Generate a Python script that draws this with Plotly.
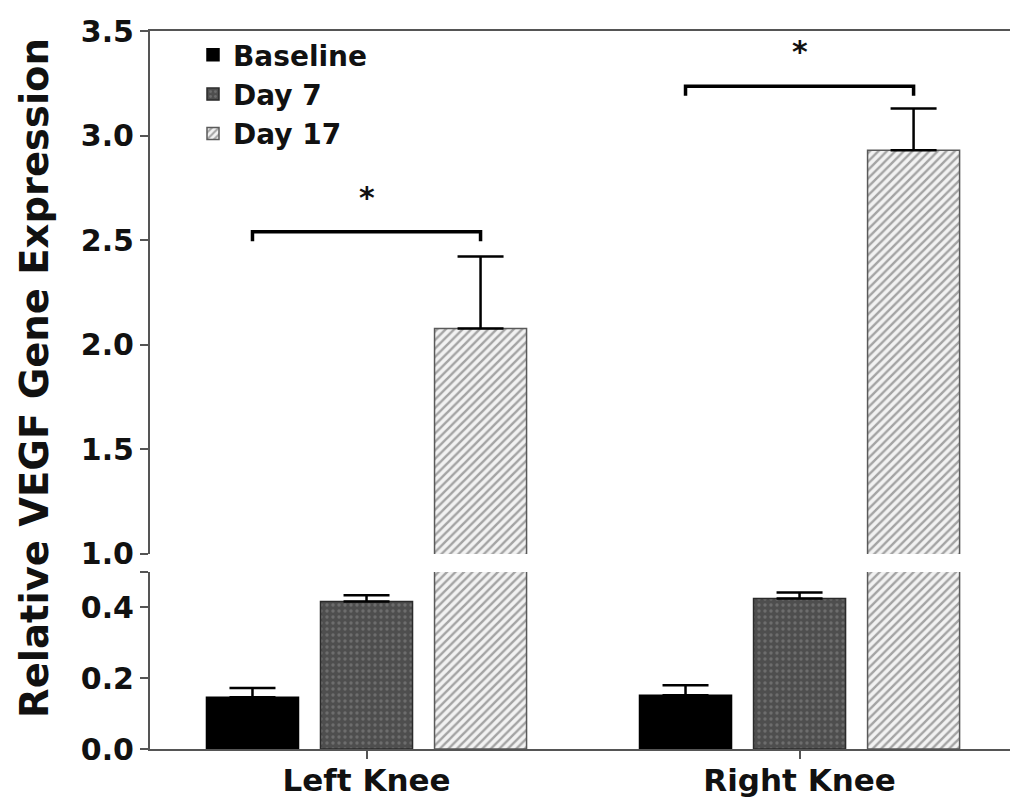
import plotly.graph_objects as go

# ---- data ----
categories = ["Left Knee", "Right Knee"]
series_names = ["Baseline", "Day 7", "Day 17"]
baseline = [0.146, 0.152]
baseline_err = [0.026, 0.028]
day7 = [0.417, 0.425]
day7_err = [0.017, 0.017]
day17 = [2.078, 2.93]
day17_err = [0.344, 0.20]
lower_ticks = [0.0, 0.2, 0.4]
upper_ticks = [1.0, 1.5, 2.0, 2.5, 3.0, 3.5]
sig_level = [2.54, 3.236]      # bracket heights (Baseline vs Day 17)
star_level = [2.705, 3.40]

values = [baseline, day7, day17]
errors = [baseline_err, day7_err, day17_err]

styles = [
    dict(color="#000000", line=dict(color="#000000", width=1.5)),
    dict(color="#4e4e4e", line=dict(color="#2a2a2a", width=1.5),
         pattern=dict(shape=".", fgcolor="#8c8c8c", bgcolor="#4e4e4e", size=6, solidity=0.25)),
    dict(color="#f2f2f2", line=dict(color="#5a5a5a", width=1.5),
         pattern=dict(shape="/", fgcolor="#555555", bgcolor="#f2f2f2", size=6, solidity=0.4)),
]

BOLD = dict(family="DejaVu Sans", weight="bold", color="#111111")
BARGAP = 0.21
BARGROUPGAP = 0.193

fig = go.Figure()
for panel, (xa, ya) in enumerate([("x", "y"), ("x2", "y2")]):
    for i, name in enumerate(series_names):
        fig.add_trace(go.Bar(
            x=categories, y=values[i], name=name,
            xaxis=xa, yaxis=ya,
            marker=styles[i],
            showlegend=(panel == 0),
            error_y=dict(type="data", array=errors[i], arrayminus=[0] * len(categories),
                         symmetric=False, color="#000000", thickness=2.5, width=23),
        ))

# significance brackets between Baseline and Day 17 bars
slot = (1 - BARGAP) / len(series_names)
for ci in range(len(categories)):
    x0, x1 = ci - slot, ci + slot
    yl = sig_level[ci]
    drop = 0.045
    fig.add_shape(type="path",
                  path=f"M {x0} {yl - drop} L {x0} {yl} L {x1} {yl} L {x1} {yl - drop}",
                  xref="x2", yref="y2", line=dict(color="#000000", width=3.5))
    fig.add_annotation(x=ci, y=star_level[ci], xref="x2", yref="y2", text="*",
                       showarrow=False, font=dict(size=30, **BOLD))

axis_common = dict(showline=True, linecolor="#555555", linewidth=2, showgrid=False,
                   zeroline=False, ticks="outside", ticklen=8, tickwidth=2, tickcolor="#555555",
                   automargin=False)

fig.update_layout(
    width=1010, height=801,
    margin=dict(l=150, r=0, t=31, b=52, autoexpand=False),
    paper_bgcolor="white", plot_bgcolor="white",
    barmode="group", bargap=BARGAP, bargroupgap=BARGROUPGAP,
    xaxis=dict(domain=[0, 1], range=[-0.5, 1.486], anchor="y",
               tickfont=dict(size=31, **BOLD), ticklabelstandoff=-5, **axis_common),
    xaxis2=dict(domain=[0, 1], matches="x", anchor="y2", side="top", showline=True,
                linecolor="#555555", linewidth=2, showgrid=False, zeroline=False,
                ticks="", showticklabels=False, automargin=False),
    yaxis=dict(domain=[0, 0.2465], range=[0, 0.5], anchor="x",
               tickvals=lower_ticks + [0.5],
               ticktext=[f"{v:.1f}" for v in lower_ticks] + [""],
               tickfont=dict(size=30, **BOLD), **axis_common),
    yaxis2=dict(domain=[0.2716, 1], range=[1.0, 3.5], anchor="x2",
                tickvals=upper_ticks, ticktext=[f"{v:.1f}" for v in upper_ticks],
                tickfont=dict(size=30, **BOLD), **axis_common),
    legend=dict(x=0.05, y=1.0014, xanchor="left", yanchor="top",
                bgcolor="rgba(0,0,0,0)", font=dict(size=28, **BOLD)),
    annotations=list(fig.layout.annotations) + [
        dict(text="Relative VEGF Gene Expression", xref="paper", yref="paper",
             x=-0.135, y=0.5167, xanchor="center", yanchor="middle", textangle=-90,
             showarrow=False, font=dict(size=38.5, **BOLD)),
    ],
)

fig.write_html("out.html")
